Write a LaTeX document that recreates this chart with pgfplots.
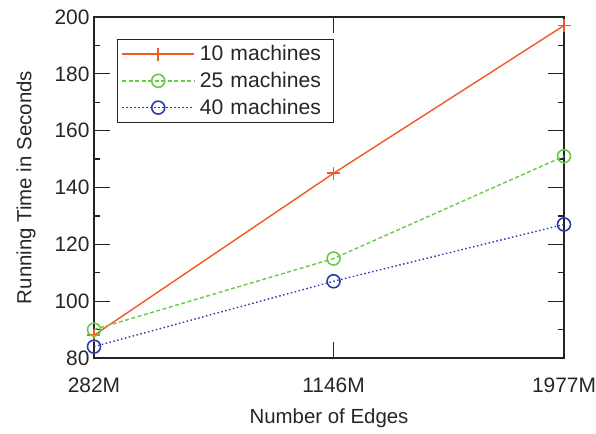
\documentclass[border=0pt]{standalone}
\usepackage{pgfplots}
\pgfplotsset{compat=1.18}
\usepackage{fontspec}
\setmainfont{Liberation Sans}
\definecolor{c10}{RGB}{240,88,40}
\definecolor{c25}{RGB}{102,204,68}
\definecolor{c40}{RGB}{40,60,170}
\definecolor{axc}{RGB}{35,35,35}
\begin{document}
\begin{tikzpicture}
\useasboundingbox (-94bp,-76bp) rectangle (502bp,358bp);
\begin{axis}[
  at={(0,0)}, anchor=south west,
  scale only axis, width=470bp, height=341bp,
  xmin=282, xmax=1977, ymin=80, ymax=200,
  xtick={282,1146,1977}, xticklabels={282M,1146M,1977M},
  ytick={80,100,...,200}, minor y tick num=1,
  tick align=inside, major tick length=16bp, minor tick length=6bp,
  axis line style={axc, line width=1.3bp},
  every tick/.style={axc, line width=1.3bp},
  /pgf/number format/assume math mode=true,
  tick label style={font=\fontsize{21}{24}\selectfont, text=black!85},
  label style={font=\fontsize{20.5}{24}\selectfont, text=black!85},
  yticklabel style={xshift=-1bp},
  xticklabel style={yshift=-16bp},
  xlabel={Number of Edges},
  ylabel={Running Time in Seconds},
  xlabel style={yshift=-10bp},
  ylabel style={yshift=12bp},
  legend style={at={(rel axis cs:0.049,0.935)}, anchor=north west,
    draw=axc, line width=1bp, font=\fontsize{21.2}{24}\selectfont,
    inner xsep=4bp, inner ysep=4bp, row sep=6bp, text=black!85,
    nodes={text width=128bp, align=left},
    /tikz/every odd column/.append style={column sep=3bp}},
  legend cell align=left,
  legend image code/.code={\draw[mark repeat=2,mark phase=2] plot coordinates {(0cm,0cm) (1.27cm,0cm) (2.54cm,0cm)};},
]
\addplot[c10, line width=1.4bp, mark=+, mark size=6.5bp, mark options={solid, line width=1.7bp}]
  coordinates {(282,88) (1146,145) (1977,197)};
\addlegendentry{10 machines}
\addplot[c25, line width=1.4bp, dash pattern=on 4bp off 2.5bp, mark=o, mark size=6.5bp, mark options={solid, line width=1.6bp}]
  coordinates {(282,90) (1146,115) (1977,151)};
\addlegendentry{25 machines}
\addplot[c40, line width=1.4bp, dash pattern=on 1.5bp off 2.5bp, mark=o, mark size=6.5bp, mark options={solid, line width=1.6bp}]
  coordinates {(282,84) (1146,107) (1977,127)};
\addlegendentry{40 machines}
\end{axis}
\end{tikzpicture}
\end{document}
